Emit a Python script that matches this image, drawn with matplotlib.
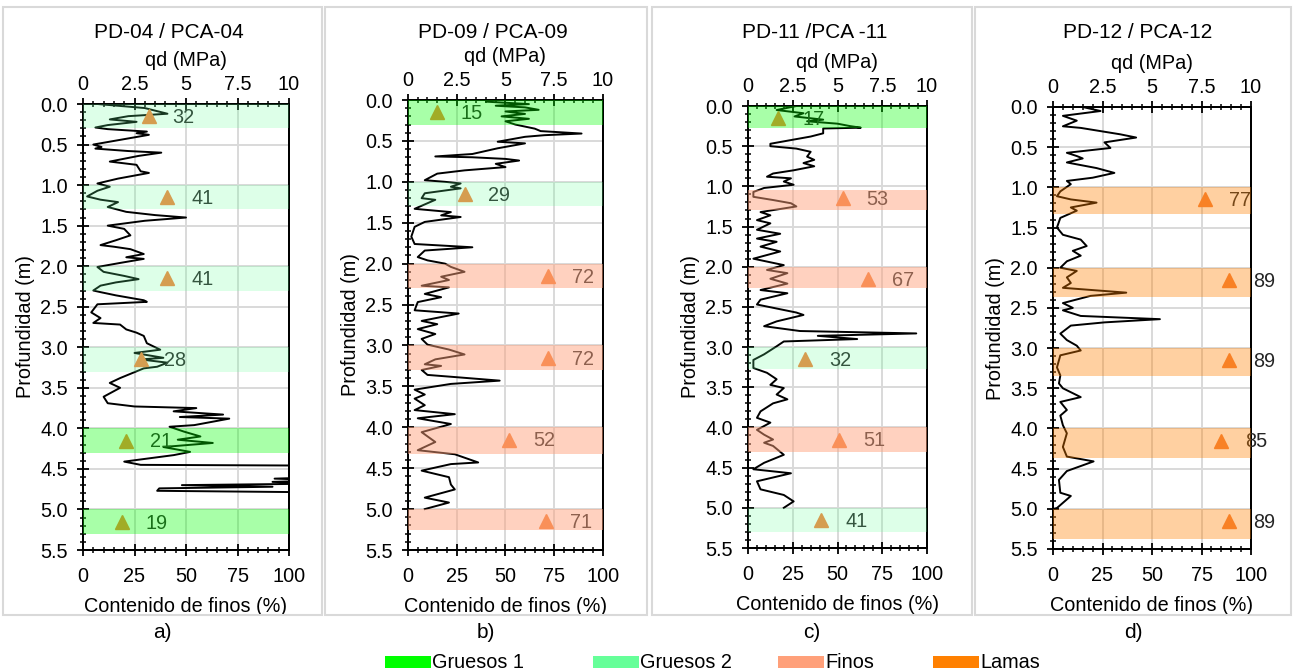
import matplotlib
matplotlib.use('Agg')
import matplotlib.pyplot as plt
from matplotlib.patches import Rectangle
from matplotlib.ticker import MultipleLocator, FormatStrFormatter

plt.rcParams['font.family'] = ['Liberation Sans', 'DejaVu Sans']

W, H = 1294, 672

# ---- data (qd profile: depth [m] / qd [MPa]; fines: depth [m] / % ) ----
a_depth = [0.00, 0.05, 0.12, 0.15, 0.19, 0.22, 0.26, 0.29, 0.31, 0.34, 0.36, 0.38, 0.42, 0.50, 0.53, 0.55,
           0.58, 0.60, 0.64, 0.71, 0.75, 0.83, 0.85, 0.92, 0.98, 1.02, 1.07, 1.14, 1.18, 1.21, 1.27, 1.33,
           1.37, 1.40, 1.44, 1.50, 1.54, 1.62, 1.68, 1.74, 1.76, 1.79, 1.85, 1.89, 1.91, 1.96, 2.01, 2.07,
           2.12, 2.16, 2.20, 2.24, 2.30, 2.32, 2.36, 2.42, 2.44, 2.47, 2.57, 2.64, 2.70, 2.72, 2.78, 2.82,
           2.86, 2.95, 3.03, 3.07, 3.13, 3.15, 3.19, 3.24, 3.26, 3.38, 3.44, 3.50, 3.61, 3.69, 3.73, 3.75,
           3.79, 3.83, 3.86, 3.88, 3.96, 3.98, 4.04, 4.10, 4.14, 4.18, 4.23, 4.29, 4.33, 4.41, 4.45, 4.46,
           4.60, 4.62, 4.64, 4.66, 4.68, 4.70, 4.72, 4.74, 4.77, 4.79, 4.80]
a_qd = [0.7, 3.0, 4.1, 2.2, 1.3, 2.6, 1.2, 0.6, 1.2, 3.1, 2.6, 3.2, 2.3, 0.5, 0.9, 0.6,
        2.2, 3.8, 2.7, 1.3, 2.6, 2.8, 3.2, 1.7, 0.7, 1.3, 0.7, 0.2, 0.85, 1.7, 1.2, 2.1,
        3.5, 5.0, 3.0, 1.2, 2.0, 2.3, 1.6, 0.85, 1.5, 2.3, 2.95, 2.1, 2.95, 1.8, 0.7, 1.0,
        2.0, 2.7, 1.6, 0.85, 0.5, 0.85, 1.6, 2.95, 3.1, 0.7, 0.4, 0.85, 0.5, 1.8, 2.1, 2.6,
        2.95, 3.1, 3.75, 2.5, 3.9, 2.8, 4.1, 3.6, 2.95, 1.8, 1.3, 1.8, 1.0, 1.2, 2.5, 5.5,
        4.4, 6.8, 4.7, 7.1, 5.4, 4.2, 4.9, 5.7, 4.6, 6.3, 3.9, 5.2, 4.4, 2.0, 2.8, 12.0,
        12.0, 9.3, 12.0, 9.2, 12.0, 4.8, 9.2, 3.7, 3.6, 12.0, 12.0]
a_cf_depth = [0.15, 1.15, 2.15, 3.15, 4.15, 5.15]
a_cf = [32, 41, 41, 28, 21, 19]
a_band_top = [0.0, 1.0, 2.0, 3.0, 4.0, 5.0]
a_band_bot = [0.3, 1.3, 2.3, 3.3, 4.3, 5.3]
a_band_kind = ['Gruesos 2', 'Gruesos 2', 'Gruesos 2', 'Gruesos 2', 'Gruesos 1', 'Gruesos 1']

b_depth = [0.02, 0.05, 0.07, 0.09, 0.12, 0.14, 0.17, 0.20, 0.23, 0.26, 0.30, 0.35, 0.38, 0.41, 0.43, 0.45,
           0.51, 0.53, 0.59, 0.66, 0.69, 0.70, 0.72, 0.74, 0.78, 0.82, 0.86, 0.90, 0.98, 1.00, 1.02, 1.06,
           1.08, 1.14, 1.20, 1.22, 1.33, 1.37, 1.41, 1.43, 1.49, 1.55, 1.67, 1.76, 1.80, 1.84, 1.92, 1.96,
           2.00, 2.04, 2.10, 2.16, 2.20, 2.27, 2.29, 2.37, 2.41, 2.47, 2.57, 2.61, 2.70, 2.74, 2.80, 2.86,
           2.92, 2.99, 3.05, 3.11, 3.17, 3.23, 3.25, 3.30, 3.36, 3.39, 3.43, 3.47, 3.54, 3.60, 3.65, 3.73,
           3.79, 3.84, 3.89, 3.96, 4.06, 4.18, 4.28, 4.33, 4.43, 4.45, 4.53, 4.61, 4.70, 4.76, 4.86, 4.92,
           5.00]
b_qd = [4.0, 6.2, 4.5, 6.0, 6.7, 5.0, 6.0, 4.8, 6.2, 5.0, 5.5, 6.5, 6.8, 8.9, 7.0, 6.0,
        4.6, 6.0, 4.6, 3.3, 1.4, 3.3, 5.0, 5.7, 4.5, 5.0, 2.9, 1.5, 0.86, 1.9, 2.7, 2.2,
        2.7, 0.86, 0.7, 1.4, 0.34, 2.2, 1.7, 2.7, 0.86, 0.34, 0.17, 0.34, 3.3, 0.86, 0.5, 1.0,
        1.9, 2.2, 2.9, 1.7, 2.1, 0.7, 2.1, 0.86, 1.7, 0.5, 0.34, 2.6, 0.7, 1.5, 0.5, 1.4,
        0.7, 1.0, 2.1, 2.9, 1.4, 0.86, 1.7, 0.7, 1.0, 2.6, 4.7, 2.2, 0.34, 0.86, 0.34, 0.86,
        0.34, 2.4, 0.5, 2.2, 0.7, 1.4, 0.5, 2.4, 3.6, 2.2, 0.7, 2.1, 2.2, 2.4, 0.86, 2.1,
        0.86]
b_cf_depth = [0.15, 1.15, 2.15, 3.15, 4.15, 5.15]
b_cf = [15, 29, 72, 72, 52, 71]
b_band_top = [0.0, 1.0, 2.0, 3.0, 4.0, 5.0]
b_band_bot = [0.3, 1.3, 2.3, 3.3, 4.33, 5.25]
b_band_kind = ['Gruesos 1', 'Gruesos 2', 'Finos', 'Finos', 'Finos', 'Finos']

c_depth = [0.00, 0.05, 0.09, 0.13, 0.17, 0.19, 0.22, 0.25, 0.27, 0.28, 0.34, 0.38, 0.44, 0.47, 0.50, 0.53,
           0.57, 0.63, 0.67, 0.71, 0.75, 0.80, 0.84, 0.88, 0.90, 0.94, 0.98, 1.02, 1.07, 1.13, 1.17, 1.21,
           1.25, 1.32, 1.36, 1.42, 1.46, 1.54, 1.59, 1.65, 1.69, 1.75, 1.81, 1.90, 1.98, 2.04, 2.08, 2.15,
           2.21, 2.29, 2.33, 2.41, 2.47, 2.57, 2.60, 2.68, 2.74, 2.80, 2.83, 2.86, 2.90, 2.93, 2.99, 3.09,
           3.16, 3.26, 3.32, 3.40, 3.47, 3.51, 3.59, 3.65, 3.70, 3.80, 3.88, 3.94, 4.03, 4.09, 4.15, 4.19,
           4.23, 4.34, 4.44, 4.52, 4.57, 4.67, 4.77, 4.84, 4.92, 5.00]
c_qd = [2.7, 1.6, 3.1, 2.6, 4.2, 3.3, 5.0, 5.7, 6.3, 4.2, 4.2, 3.5, 2.0, 1.25, 1.25, 2.7,
        3.5, 3.3, 3.7, 3.1, 3.7, 2.55, 1.4, 1.06, 2.4, 2.0, 2.55, 0.9, 0.3, 0.3, 1.4, 2.4,
        2.7, 0.7, 1.25, 0.5, 1.25, 0.5, 1.8, 0.5, 1.6, 0.7, 1.8, 0.3, 2.0, 1.06, 2.2, 1.25,
        2.2, 0.7, 2.2, 0.7, 0.5, 2.7, 3.1, 1.6, 0.9, 2.9, 9.4, 3.9, 6.1, 2.0, 1.6, 0.9,
        0.3, 0.3, 1.06, 1.6, 1.25, 2.0, 1.6, 2.2, 1.4, 0.7, 0.5, 1.25, 0.5, 0.9, 1.4, 0.9,
        1.4, 2.0, 0.9, 0.3, 2.4, 0.5, 0.7, 2.0, 2.55, 2.0]
c_cf_depth = [0.15, 1.15, 2.15, 3.15, 4.15, 5.15]
c_cf = [17, 53, 67, 32, 51, 41]
c_band_top = [0.0, 1.05, 2.0, 3.0, 4.0, 5.0]
c_band_bot = [0.27, 1.3, 2.27, 3.27, 4.3, 5.3]
c_band_kind = ['Gruesos 1', 'Finos', 'Finos', 'Gruesos 2', 'Finos', 'Gruesos 2']

d_depth = [0.00, 0.05, 0.11, 0.17, 0.24, 0.26, 0.30, 0.34, 0.38, 0.44, 0.51, 0.57, 0.61, 0.64, 0.69, 0.76,
           0.82, 0.88, 0.92, 0.96, 1.05, 1.11, 1.15, 1.19, 1.25, 1.29, 1.38, 1.50, 1.59, 1.65, 1.73, 1.79,
           1.85, 1.92, 2.00, 2.04, 2.12, 2.19, 2.25, 2.31, 2.35, 2.44, 2.50, 2.53, 2.60, 2.64, 2.68, 2.72,
           2.82, 2.90, 2.97, 3.03, 3.09, 3.24, 3.34, 3.44, 3.50, 3.61, 3.67, 3.77, 3.84, 3.96, 4.06, 4.23,
           4.35, 4.41, 4.53, 4.64, 4.80, 4.84, 4.99, 5.00]
d_qd = [1.5, 2.4, 0.5, 1.2, 0.5, 1.4, 2.4, 3.4, 4.2, 2.6, 2.9, 0.7, 1.2, 1.5, 0.7, 2.2,
        3.1, 2.0, 0.7, 0.9, 0.37, 0.2, 0.9, 2.2, 0.9, 1.2, 0.37, 0.2, 0.5, 1.4, 1.7, 1.0,
        1.4, 0.7, 0.37, 1.2, 0.7, 0.9, 0.5, 3.7, 1.9, 0.5, 1.0, 0.5, 1.4, 5.4, 2.6, 0.9,
        0.37, 0.7, 1.2, 1.4, 0.37, 0.2, 0.37, 0.3, 0.5, 1.4, 0.37, 0.7, 0.37, 0.5, 0.7, 0.5,
        0.7, 2.05, 0.7, 0.3, 0.37, 0.9, 0.2, 0.03]
d_cf_depth = [1.15, 2.15, 3.15, 4.15, 5.15]
d_cf = [77, 89, 89, 85, 89]
d_band_top = [1.0, 2.0, 3.0, 4.0, 5.0]
d_band_bot = [1.33, 2.37, 3.35, 4.37, 5.37]
d_band_kind = ['Lamas', 'Lamas', 'Lamas', 'Lamas', 'Lamas']

KINDS = ['Gruesos 1', 'Gruesos 2', 'Finos', 'Lamas']
KIND_COLOR = {'Gruesos 1': '#00FF00', 'Gruesos 2': '#66FF99', 'Finos': '#FFA07A', 'Lamas': '#FF8000'}
KIND_ALPHA = {'Gruesos 1': 0.34, 'Gruesos 2': 0.22, 'Finos': 0.48, 'Lamas': 0.37}
TRI = '#F5823C'
GRID = '#d9d9d9'
FS = 14.3


def box(x0, y0, x1, y1):
    """pixel box (origin top-left) -> figure fraction rect"""
    return [x0 / W, 1 - y1 / H, (x1 - x0) / W, (y1 - y0) / H]


fig = plt.figure(figsize=(W / 100, H / 100), dpi=100, facecolor='white')


def panel(rect, frame, title, title_x, depth, qd, cf_depth, cf, btop, bbot, bkind, letter):
    x0, y0, x1, y1 = frame
    fig.add_artist(Rectangle((x0 / W, 1 - y1 / H), (x1 - x0) / W, (y1 - y0) / H,
                             transform=fig.transFigure, fill=False, ec=GRID, lw=1.5))
    ax = fig.add_axes(box(*rect))
    cfax = ax.twiny()

    # qd profile on the top axis
    ax.plot(qd, depth, color='black', lw=1.4, zorder=3)
    ax.set_xlim(0, 10)
    ax.set_ylim(5.5, 0)
    ax.xaxis.tick_top()
    ax.xaxis.set_label_position('top')
    ax.set_xticks([0, 2.5, 5, 7.5, 10])
    ax.set_xticklabels(['0', '2.5', '5', '7.5', '10'])
    ax.xaxis.set_minor_locator(MultipleLocator(0.5))
    ax.yaxis.set_major_locator(MultipleLocator(0.5))
    ax.yaxis.set_minor_locator(MultipleLocator(0.1))
    ax.yaxis.set_major_formatter(FormatStrFormatter('%.1f'))
    ax.grid(True, color=GRID, lw=1.4)
    ax.set_axisbelow(True)
    ax.set_xlabel('qd (MPa)', fontsize=FS, labelpad=7)
    ax.set_ylabel('Profundidad (m)', fontsize=FS, labelpad=4)

    # fines content on the bottom axis
    cfax.xaxis.tick_bottom()
    cfax.xaxis.set_label_position('bottom')
    cfax.set_xlim(0, 100)
    cfax.set_xticks([0, 25, 50, 75, 100])
    cfax.xaxis.set_minor_locator(MultipleLocator(5))
    cfax.set_xlabel('Contenido de finos (%)', fontsize=FS, labelpad=8)
    cfax.plot(cf, cf_depth, linestyle='none', marker='^', ms=10, color=TRI, zorder=3)
    for v, d in zip(cf, cf_depth):
        cfax.annotate(str(v), (v, d), xytext=(17, -1), textcoords='offset points',
                      ha='left', va='center', fontsize=FS, color='#262626', zorder=3)
    for t, b, k in zip(btop, bbot, bkind):
        cfax.axhspan(t, b, color=KIND_COLOR[k], alpha=KIND_ALPHA[k], lw=0, zorder=6)

    for a in (ax, cfax):
        for s in a.spines.values():
            s.set_color('black')
            s.set_linewidth(1.4)
        a.tick_params(which='major', direction='inout', length=8, width=1.3,
                      labelsize=FS, colors='black')
        a.tick_params(which='minor', direction='inout', length=5, width=1.1)
    ax.tick_params(axis='x', which='major', pad=3)
    ax.tick_params(axis='y', which='major', pad=7)
    cfax.tick_params(axis='x', which='major', pad=8)

    fig.text(title_x / W, 1 - 33 / H, title, ha='center', va='center', fontsize=15)
    fig.text((x0 + x1) / 2 / W, 1 - 632 / H, letter, ha='center', va='center', fontsize=15)


panel((83, 104, 289, 550), (3, 7, 322, 615), 'PD-04 / PCA-04', 169,
      a_depth, a_qd, a_cf_depth, a_cf, a_band_top, a_band_bot, a_band_kind, 'a)')
panel((408, 100, 603, 550), (325, 7, 647, 615), 'PD-09 / PCA-09', 493,
      b_depth, b_qd, b_cf_depth, b_cf, b_band_top, b_band_bot, b_band_kind, 'b)')
panel((748, 106, 927, 548), (652, 7, 972, 615), 'PD-11 /PCA -11', 815,
      c_depth, c_qd, c_cf_depth, c_cf, c_band_top, c_band_bot, c_band_kind, 'c)')
panel((1053, 107, 1251, 549), (975, 7, 1291, 615), 'PD-12 / PCA-12', 1138,
      d_depth, d_qd, d_cf_depth, d_cf, d_band_top, d_band_bot, d_band_kind, 'd)')

# legend row
leg_x = [385, 593, 778, 933]
for x, k in zip(leg_x, KINDS):
    fig.add_artist(Rectangle((x / W, 1 - 668 / H), 46 / W, 12 / H, transform=fig.transFigure,
                             fc=KIND_COLOR[k], ec='none'))
    fig.text((x + 47) / W, 1 - 662 / H, k, ha='left', va='center', fontsize=FS)

fig.savefig('out.png', dpi=100, facecolor='white')
